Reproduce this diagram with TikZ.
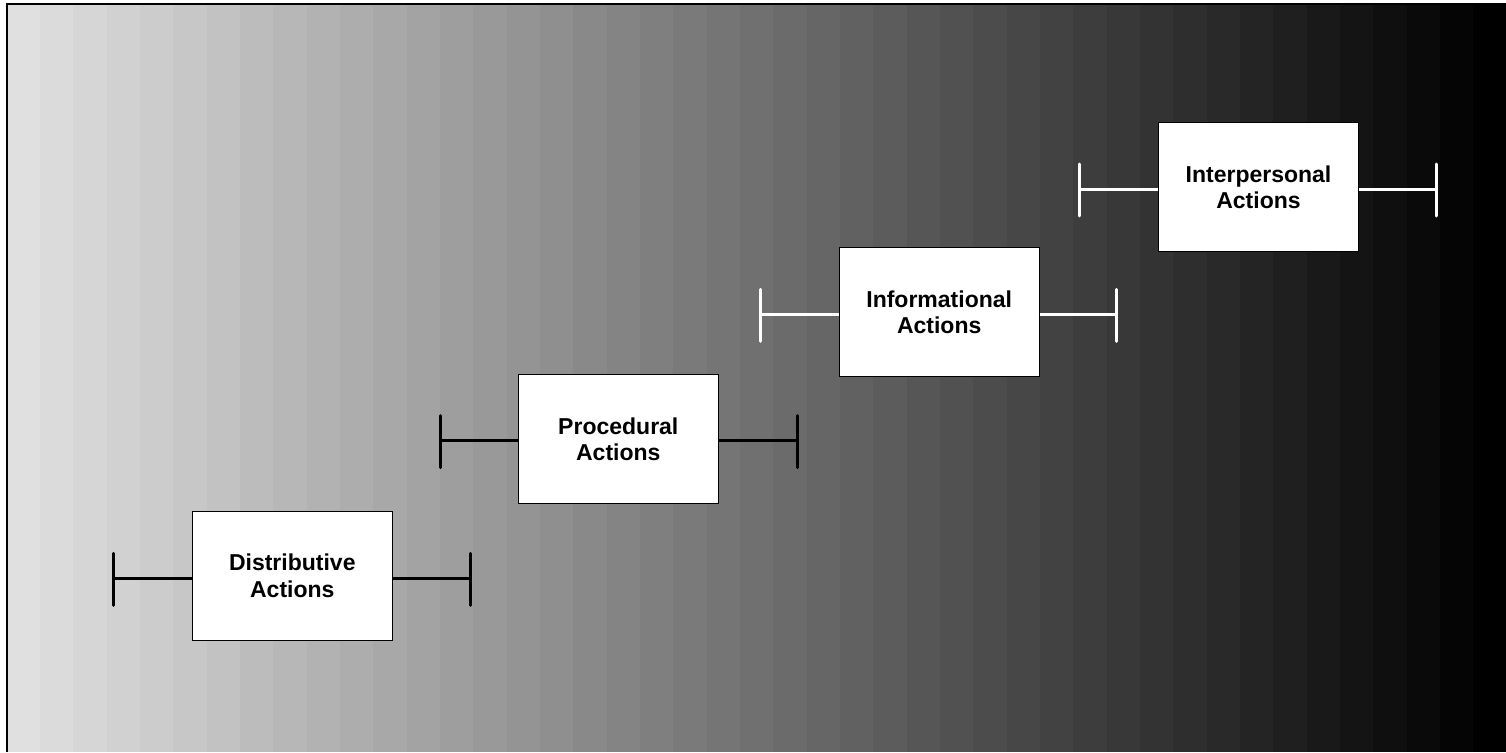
\documentclass[tikz,border=0pt]{standalone}
\usepackage{fontspec}
\setmainfont{Liberation Sans}
\usetikzlibrary{calc}
\begin{document}
\begin{tikzpicture}[x=1pt,y=-1pt,
  actbox/.style={draw=black,line width=1pt,fill=white,minimum width=200pt,minimum height=129pt,
    inner sep=0pt,align=center,font=\fontsize{23}{26.3}\selectfont\bfseries},
  stem/.style={line width=3pt},
  stemend/.style={line width=3pt,line cap=round}]
\useasboundingbox (0,0) rectangle (1506,752);
\fill[white] (0,0) rectangle (1506,752);
% banded gradient background
\foreach \k in {0,...,44}{
  \pgfmathsetmacro\gv{0.8784*(1-\k/44)}
  \definecolor{bandc}{gray}{\gv}
  \fill[bandc] ({6.67+33.333*\k},4.5) rectangle ({6.67+33.333*(\k+1)+0.6},752);
}
% frame (left and top edges)
\draw[black,line width=2pt] (7,752) -- (7,4.5) -- (1506,4.5);
% boxes
\node[actbox] (dist)  at (292.3,575.8) {Distributive\\Actions};
\node[actbox] (proc)  at (618.3,439.2) {Procedural\\Actions};
\node[actbox] (info)  at (939.2,312.2) {Informational\\Actions};
\node[actbox] (inter) at (1258.5,187)  {Interpersonal\\Actions};
% end coordinates
\coordinate (dl) at (113,578.3);   \coordinate (dr) at (470,578.3);
\coordinate (pl) at (440.7,440.7); \coordinate (pr) at (797,440.7);
\coordinate (il) at (760.7,314.3); \coordinate (ir) at (1116.7,314.3);
\coordinate (nl) at (1079,189);    \coordinate (nr) at (1436,189);
% black ranges
\foreach \b/\l/\r in {dist/dl/dr, proc/pl/pr}{
  \draw[stem,black] (\b.west |- \l) -- (\l);
  \draw[stem,black] (\b.east |- \r) -- (\r);
  \draw[stemend,black] ($(\l)+(0,-25)$) -- ($(\l)+(0,27)$);
  \draw[stemend,black] ($(\r)+(0,-25)$) -- ($(\r)+(0,27)$);
}
% white ranges
\foreach \b/\l/\r in {info/il/ir, inter/nl/nr}{
  \draw[stem,white] (\b.west |- \l) -- (\l);
  \draw[stem,white] (\b.east |- \r) -- (\r);
  \draw[stemend,white] ($(\l)+(0,-25)$) -- ($(\l)+(0,27)$);
  \draw[stemend,white] ($(\r)+(0,-25)$) -- ($(\r)+(0,27)$);
}
\end{tikzpicture}
\end{document}
